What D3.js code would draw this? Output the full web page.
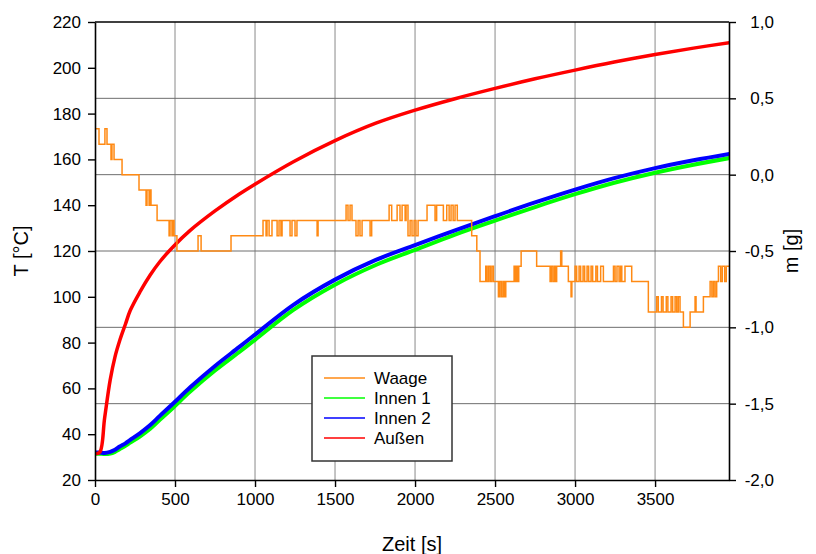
<!DOCTYPE html>
<html>
<head>
<meta charset="utf-8">
<script src="https://cdn.jsdelivr.net/npm/d3@7"></script>
<style>
  body { margin: 0; background: #fff; }
  text { font-family: "Liberation Sans", Arial, sans-serif; fill: #000; }
</style>
</head>
<body>
<div id="chart"></div>
<script>
// time axis for the temperature curves (s)
var timeT = [0, 30, 60, 95, 125, 155, 190, 220, 280, 345, 405, 490, 595, 750, 900, 1000,
  1240, 1500, 1755, 2000, 2250, 2500, 2750, 3000, 3245, 3500, 3740, 3965];

// temperatures (°C)
var aussen = [31.5, 32.2, 47, 63.7, 73.8, 81, 88, 94, 102, 109.5, 115.3, 122, 129, 137.5, 144.8, 149.2,
  159, 168.2, 175.8, 181.5, 186.5, 191, 195.2, 199, 202.5, 205.8, 208.6, 211];
var innen2 = [32, 32, 31.8, 32.3, 33.2, 34.6, 36, 37.5, 40.4, 44, 48, 53.5, 60.5, 69.8, 78, 83.5,
  96.5, 107.5, 116.1, 122.6, 129, 135.2, 141.2, 146.8, 151.8, 156.2, 159.6, 162.4];
var innen1 = [31.5, 31.5, 31.3, 31.5, 32.3, 33.5, 34.9, 36.3, 39, 42.4, 46.3, 51.7, 58.6, 67.8, 75.8, 81.2,
  94.3, 105.3, 113.9, 120.5, 127.2, 133.3, 139.2, 144.8, 149.8, 154.2, 157.7, 160.6];

// balance reading (g), step data
var waageTime = [0, 25, 62, 75, 100, 106, 119, 169, 275, 319, 325, 338, 344, 350, 388, 463, 469, 481, 488, 494,
  512, 644, 663, 850, 1050, 1069, 1075, 1088, 1106, 1138, 1150, 1162, 1169, 1219, 1231, 1250, 1262, 1388, 1394,
  1569, 1581, 1594, 1606, 1631, 1644, 1656, 1669, 1719, 1729, 1838, 1854, 1888, 1906, 1919, 1938, 1944, 1956,
  1969, 1981, 1994, 2006, 2019, 2075, 2125, 2135, 2177, 2198, 2213, 2225, 2238, 2250, 2264, 2354, 2386, 2406,
  2442, 2450, 2460, 2470, 2480, 2490, 2521, 2530, 2540, 2550, 2558, 2567, 2619, 2625, 2632, 2640, 2648, 2663,
  2760, 2844, 2852, 2862, 2872, 2878, 2885, 2910, 2917, 2958, 2975, 2980, 3000, 3010, 3025, 3035, 3050, 3060,
  3075, 3085, 3100, 3110, 3130, 3140, 3160, 3177, 3240, 3250, 3262, 3275, 3285, 3292, 3312, 3354, 3458, 3510,
  3520, 3540, 3550, 3570, 3580, 3600, 3610, 3625, 3635, 3645, 3656, 3677, 3719, 3750, 3756, 3802, 3844, 3855,
  3865, 3875, 3885, 3896, 3910, 3920, 3935, 3945, 3962];
var waageMass = [0.3, 0.2, 0.3, 0.2, 0.1, 0.2, 0.1, 0.0, -0.1, -0.2, -0.1, -0.2, -0.1, -0.2, -0.3, -0.4, -0.3, -0.4, -0.3, -0.4,
  -0.5, -0.4, -0.5, -0.4, -0.3, -0.4, -0.3, -0.4, -0.3, -0.4, -0.3, -0.4, -0.3, -0.4, -0.3, -0.4, -0.3, -0.4, -0.3,
  -0.2, -0.3, -0.2, -0.3, -0.4, -0.3, -0.4, -0.3, -0.4, -0.3, -0.2, -0.3, -0.2, -0.3, -0.2, -0.3, -0.2, -0.4,
  -0.3, -0.4, -0.3, -0.4, -0.3, -0.2, -0.3, -0.2, -0.3, -0.2, -0.3, -0.2, -0.3, -0.2, -0.3, -0.4, -0.5, -0.7,
  -0.6, -0.7, -0.6, -0.7, -0.6, -0.7, -0.8, -0.7, -0.8, -0.7, -0.8, -0.7, -0.6, -0.7, -0.6, -0.7, -0.6, -0.5,
  -0.6, -0.7, -0.6, -0.7, -0.6, -0.7, -0.6, -0.5, -0.6, -0.7, -0.8, -0.7, -0.6, -0.7, -0.6, -0.7, -0.6, -0.7,
  -0.6, -0.7, -0.6, -0.7, -0.6, -0.7, -0.6, -0.7, -0.6, -0.7, -0.6, -0.7, -0.6, -0.7, -0.6, -0.7, -0.9, -0.8,
  -0.9, -0.8, -0.9, -0.8, -0.9, -0.8, -0.9, -0.8, -0.9, -0.8, -0.9, -1.0, -0.9, -0.8, -0.9, -0.8, -0.7, -0.8,
  -0.7, -0.8, -0.7, -0.6, -0.7, -0.6, -0.7, -0.6, -0.6];

var xTicks = [0, 500, 1000, 1500, 2000, 2500, 3000, 3500];
var tTicks = [20, 40, 60, 80, 100, 120, 140, 160, 180, 200, 220];
var mTicks = [-2.0, -1.5, -1.0, -0.5, 0.0, 0.5, 1.0];

var legendNames = ["Waage", "Innen 1", "Innen 2", "Außen"];
var legendColors = ["#ff8a14", "#00ff00", "#0000ff", "#ff0000"];

var svgWidth = 816;
var svgHeight = 554;
var margin = { top: 22, right: 87, bottom: 74, left: 95 };
var width = svgWidth - margin.left - margin.right;
var height = svgHeight - margin.top - margin.bottom;

var svg = d3.select("#chart")
  .append("svg")
  .attr("width", svgWidth)
  .attr("height", svgHeight);

var chartGroup = svg.append("g")
  .attr("transform", `translate(${margin.left}, ${margin.top})`);

// scales
var xScale = d3.scaleLinear().domain([0, 3962]).range([0, width]);
var yTemp = d3.scaleLinear().domain([20, 220]).range([height, 0]);
var yMass = d3.scaleLinear().domain([-2.0, 1.0]).range([height, 0]);

var comma = function(d) { return d3.format(".1f")(d).replace(".", ",").replace("−", "-"); };

// grid lines
chartGroup.append("g")
  .selectAll("line")
  .data(xTicks.slice(1))
  .enter()
  .append("line")
  .attr("x1", d => xScale(d))
  .attr("x2", d => xScale(d))
  .attr("y1", 0)
  .attr("y2", height)
  .attr("stroke", "#8a8a8a")
  .attr("stroke-width", 1);

chartGroup.append("g")
  .selectAll("line")
  .data(mTicks.slice(1, -1))
  .enter()
  .append("line")
  .attr("x1", 0)
  .attr("x2", width)
  .attr("y1", d => yMass(d))
  .attr("y2", d => yMass(d))
  .attr("stroke", "#6e6e6e")
  .attr("stroke-width", 1);

// clip for the data lines
svg.append("clipPath").attr("id", "plotClip")
  .append("rect").attr("width", width).attr("height", height);

var plot = chartGroup.append("g").attr("clip-path", "url(#plotClip)");

var tempLine = function(values) {
  return d3.line()
    .x((d, i) => xScale(timeT[i]))
    .y(d => yTemp(d))
    .curve(d3.curveCatmullRom.alpha(0.5))(values);
};

plot.append("path").attr("d", tempLine(innen1))
  .attr("fill", "none").attr("stroke", legendColors[1]).attr("stroke-width", 4);
plot.append("path").attr("d", tempLine(innen2))
  .attr("fill", "none").attr("stroke", legendColors[2]).attr("stroke-width", 4);
plot.append("path").attr("d", tempLine(aussen))
  .attr("fill", "none").attr("stroke", legendColors[3]).attr("stroke-width", 3.5);

var waageLine = d3.line()
  .x((d, i) => xScale(waageTime[i]))
  .y(d => yMass(d))
  .curve(d3.curveStepAfter);

plot.append("path").attr("d", waageLine(waageMass))
  .attr("fill", "none").attr("stroke", legendColors[0]).attr("stroke-width", 1.5);

// axes
var xAxis = d3.axisBottom(xScale).tickValues(xTicks).tickSize(7).tickSizeOuter(0).tickPadding(6)
  .tickFormat(d3.format("d"));
var yAxis = d3.axisLeft(yTemp).tickValues(tTicks).tickSize(7).tickSizeOuter(0).tickPadding(7);
var y2Axis = d3.axisRight(yMass).tickValues(mTicks).tickSize(7).tickSizeOuter(0).tickPadding(38).tickFormat(comma);

var gx = chartGroup.append("g").attr("transform", `translate(0, ${height})`).call(xAxis);
var gy = chartGroup.append("g").call(yAxis);
var gy2 = chartGroup.append("g").attr("transform", `translate(${width}, 0)`).call(y2Axis);
gy2.selectAll("text").attr("text-anchor", "end");

[gx, gy, gy2].forEach(function(g) {
  g.selectAll("text").style("font-size", "17px").attr("fill", "#000");
  g.select(".domain").attr("stroke", "#000").attr("stroke-width", 1.6);
  g.selectAll(".tick line").attr("stroke", "#000").attr("stroke-width", 1.4);
});

// top frame
chartGroup.append("line")
  .attr("x1", 0).attr("x2", width).attr("y1", 0).attr("y2", 0)
  .attr("stroke", "#000").attr("stroke-width", 1.4);

// axis titles
svg.append("text")
  .attr("transform", `translate(28, ${margin.top + height / 2}) rotate(-90)`)
  .attr("text-anchor", "middle")
  .style("font-size", "20px")
  .text("T [°C]");

svg.append("text")
  .attr("transform", `translate(798, ${margin.top + height / 2}) rotate(-90)`)
  .attr("text-anchor", "middle")
  .style("font-size", "20px")
  .text("m [g]");

svg.append("text")
  .attr("x", margin.left + width / 2)
  .attr("y", 551)
  .attr("text-anchor", "middle")
  .style("font-size", "20px")
  .text("Zeit [s]");

// legend
var legend = svg.append("g").attr("transform", "translate(312, 356)");
legend.append("rect")
  .attr("width", 140).attr("height", 105)
  .attr("fill", "#fff").attr("stroke", "#333").attr("stroke-width", 1.5);

var rows = legend.selectAll("g.row")
  .data(legendNames)
  .enter()
  .append("g")
  .attr("class", "row")
  .attr("transform", (d, i) => `translate(0, ${22 + i * 20})`);

rows.append("line")
  .attr("x1", 12).attr("x2", 53)
  .attr("stroke", (d, i) => legendColors[i])
  .attr("stroke-width", 1.5);

rows.append("text")
  .attr("x", 62)
  .attr("dy", "0.35em")
  .style("font-size", "17px")
  .text(d => d);
</script>
</body>
</html>
